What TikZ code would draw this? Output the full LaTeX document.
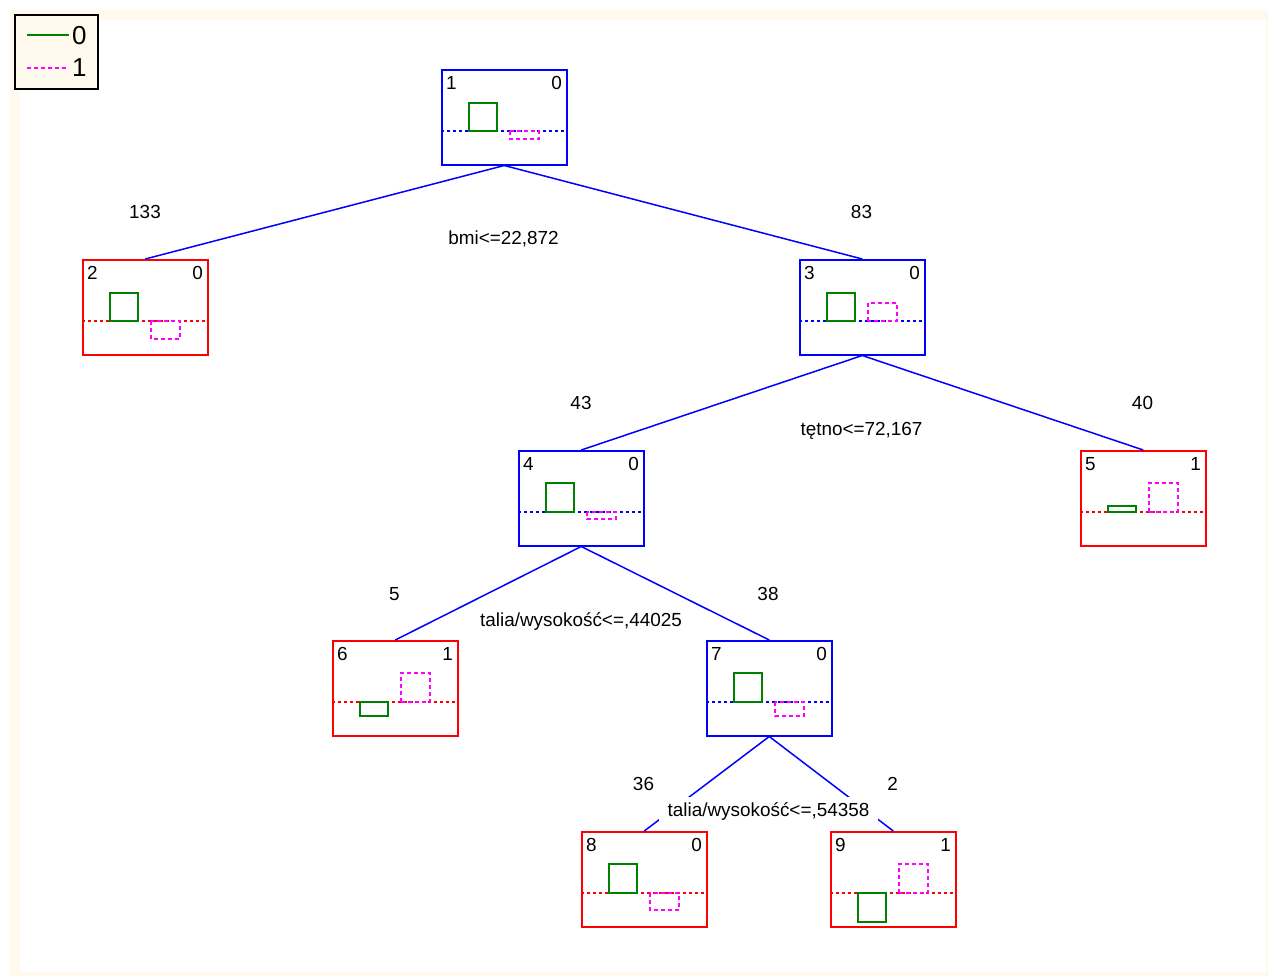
\documentclass[tikz,border=0pt]{standalone}
\usepackage{fontspec}
\setmainfont{Liberation Sans}
\definecolor{cream}{RGB}{255,250,237}
\definecolor{leafgreen}{RGB}{0,128,0}
\definecolor{leafmagenta}{RGB}{255,0,255}
\definecolor{treeblue}{RGB}{0,0,255}
\definecolor{treered}{RGB}{255,0,0}
\tikzset{
  treebox/.style={rectangle, line width=1.5pt, minimum width=125pt, minimum height=95pt, inner sep=0pt, anchor=north west},
  lab/.style={inner sep=0pt, font=\fontsize{18.9}{20}\selectfont},
  count/.style={lab, anchor=base},
  split/.style={lab, anchor=base, fill=white, inner xsep=9pt, inner ysep=5pt},
  edge/.style={treeblue, line width=1.5pt},
  baseline/.style={line width=1.5pt, dash pattern=on 3pt off 3pt},
  gbar/.style={leafgreen, line width=1.5pt},
  mbar/.style={leafmagenta, line width=1.5pt, dash pattern=on 4pt off 3pt},
}
% #1 name, #2 left, #3 top, #4 colour, #5 id, #6 class, #7 green bar height, #8 magenta bar height (up = positive)
\newcommand\treebox[8]{%
  \node[treebox, draw=#4] (#1) at (#2,#3) {};
  \begin{scope}[shift={(#2,#3)}]
    \node[lab, anchor=base west] (#1id) at (5,20) {#5};
    \node[lab, anchor=base east] (#1cl) at (121,20) {#6};
    \draw[baseline, #4] (0,62) -- (125,62);
    \draw[gbar] (28,62) rectangle (56,{62-(#7)});
    \draw[mbar] (69,62) rectangle (98,{62-(#8)});
  \end{scope}}
\begin{document}
\begin{tikzpicture}[x=1pt, y=-1pt]
\useasboundingbox (0,0) rectangle (1270,977);
% panel background
\fill[cream] (10,10) rectangle (1268,976);
\fill[white] (20,20) rectangle (1266,972);

% legend
\node[draw=black, fill=cream, line width=1.5pt, minimum width=83pt, minimum height=74pt, inner sep=0pt, anchor=north west] (legend) at (14,14) {};
\coordinate (lg0a) at (27,35);
\coordinate (lg0b) at (69,35);
\coordinate (lg1a) at (27,68);
\coordinate (lg1b) at (66,68);
\draw[gbar] (lg0a) -- (lg0b);
\draw[mbar] (lg1a) -- (lg1b);
\node[lab, anchor=base west, font=\fontsize{26}{28}\selectfont] (lgt0) at (72,45) {0};
\node[lab, anchor=base west, font=\fontsize{26}{28}\selectfont] (lgt1) at (72,76) {1};

% tree nodes
\treebox{n1}{441}{69}{treeblue}{1}{0}{28}{-8}
\treebox{n2}{82}{259}{treered}{2}{0}{28}{-18}
\treebox{n3}{799}{259}{treeblue}{3}{0}{28}{18}
\treebox{n4}{518}{450}{treeblue}{4}{0}{29}{-7}
\treebox{n5}{1080}{450}{treered}{5}{1}{6}{29}
\treebox{n6}{332}{640}{treered}{6}{1}{-14}{29}
\treebox{n7}{706}{640}{treeblue}{7}{0}{29}{-14}
\treebox{n8}{581}{831}{treered}{8}{0}{29}{-17}
\treebox{n9}{830}{831}{treered}{9}{1}{-29}{29}

% branches
\draw[edge] (n1.south) -- (n2.north);
\draw[edge] (n1.south) -- (n3.north);
\draw[edge] (n3.south) -- (n4.north);
\draw[edge] (n3.south) -- (n5.north);
\draw[edge] (n4.south) -- (n6.north);
\draw[edge] (n4.south) -- (n7.north);
\draw[edge] (n7.south) -- (n8.north);
\draw[edge] (n7.south) -- (n9.north);

% split rules
\node[split] (s1) at (503.5,244) {bmi<=22,872};
\node[split] (s3) at (861.5,435) {tętno<=72,167};
\node[split] (s4) at (581,626) {talia/wysokość<=,44025};
\node[split] (s7) at (768.5,816) {talia/wysokość<=,54358};

% branch counts
\node[count] (c2) at (145,218) {133};
\node[count] (c3) at (861.5,218) {83};
\node[count] (c4) at (581,409) {43};
\node[count] (c5) at (1142.5,409) {40};
\node[count] (c6) at (394.5,600) {5};
\node[count] (c7) at (768,600) {38};
\node[count] (c8) at (643.5,790) {36};
\node[count] (c9) at (892.5,790) {2};
\end{tikzpicture}
\end{document}
